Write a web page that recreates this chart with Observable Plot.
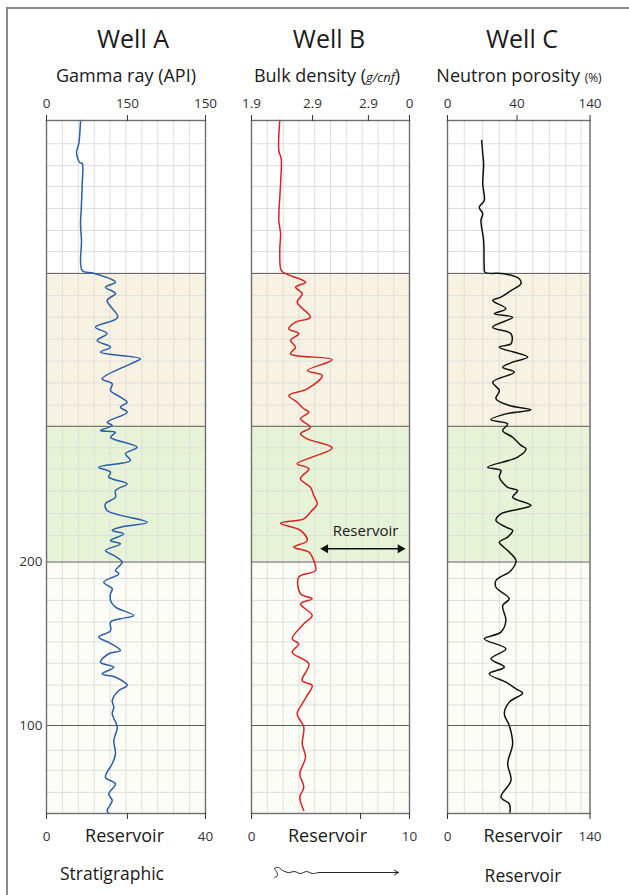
<!DOCTYPE html>
<html><head><meta charset="utf-8">
<script src="https://cdn.jsdelivr.net/npm/d3@7"></script>
<script src="https://cdn.jsdelivr.net/npm/@observablehq/plot@0.6"></script>
<style>
html,body{margin:0;padding:0;width:629px;height:895px;overflow:hidden;background:#fff;font-family:"Open Sans",sans-serif;}
#root{position:relative;width:629px;height:895px;overflow:hidden;}
.t{position:absolute;transform:translateX(-50%);white-space:nowrap;color:#1a1a1a;}
.frame{position:absolute;left:6px;top:7px;width:800px;height:1000px;border-left:2px solid #8c8c8c;border-top:2px solid #8c8c8c;}
.p{position:absolute;top:0;}
.p svg{overflow:visible;}
</style></head><body><div id="root"><div class="frame"></div></div>
<script>
// ---------- shared depth data ----------
const depthDomain = [46.2, 470];
const depthTicks = [200, 100];
const boundaryDepths = [376.5, 283, 200, 100];
const zoneTop = [376.5, 283, 200];
const zoneBottom = [283, 200, 46.2];
const zoneFill = ["#f7f2e1", "#e6f3d6", "#fdfdf8"];
const gridDepths = [455.8, 442.4, 429.6, 416.2, 402.7, 389.9, 363.1, 349.7, 336.3, 322.9, 309.5, 296.0,
  269.8, 257.0, 243.6, 229.6, 216.2, 189.9, 176.5, 163.3, 151.1, 138.1, 124.7, 112.5, 84.8, 72.6, 59.1];

// ---------- Well A: gamma ray ----------
const wellA_depth = [470, 456.0, 450.4, 444.3, 443.7, 431.5, 415.0, 407.0, 396.6, 378.3, 376.6, 371.1, 368.1, 364.2, 359.9,
  349.7, 343.6, 339.7, 335.5, 331.4, 328.3, 324.3, 321.2, 312.0, 309.0, 304.9, 300.8, 297.7, 294.7, 291.6, 285.5, 283.5,
  280.4, 279.4, 276.3, 270.2, 266.2, 262.1, 258.0, 254.9, 251.9, 247.8, 243.7, 239.6, 235.6, 231.5, 224.3, 221.3, 219.3,
  217.2, 213.1, 211.1, 207.0, 204.0, 199.9, 194.8, 192.8, 187.6, 183.6, 180.6, 176.5, 172.4, 167.3, 165.3, 163.2, 158.1,
  154.0, 150.9, 145.9, 143.9, 138.7, 135.7, 131.6, 129.5, 124.5, 121.4, 115.3, 111.2, 107.2, 99.0, 90.8, 82.7, 76.6,
  68.4, 64.3, 58.2, 54.1, 48.0, 46.2];
const wellA_gamma = [32.1, 30.5, 28.3, 31.4, 33.7, 33.7, 32.7, 32.1, 33.0, 33.7, 44.6, 65.1, 55.6, 65.1, 57.2,
  67.2, 46.2, 57.2, 47.8, 60.4, 50.9, 88.6, 79.2, 52.5, 62.0, 60.4, 69.8, 76.1, 69.8, 76.1, 57.2, 62.0,
  50.9, 65.1, 60.4, 85.5, 74.5, 79.2, 49.3, 60.4, 58.7, 76.1, 65.1, 65.1, 55.6, 57.2, 95.0, 69.8, 62.0,
  72.9, 60.4, 69.8, 55.6, 63.5, 71.4, 65.1, 68.2, 54.0, 62.0, 60.4, 60.4, 65.1, 82.3, 69.8, 60.4, 60.4,
  49.3, 58.7, 69.8, 58.7, 50.9, 63.5, 52.5, 65.1, 76.1, 68.2, 62.0, 63.5, 62.0, 66.7, 63.5, 65.1, 62.0,
  55.6, 65.1, 58.7, 62.0, 57.2, 58.7];
const wellA_topTicks = [0, 76.4, 150];
const wellA_topLabels = ["0", "150", "150"];
const wellA_bottomTicks = [0, 76.4, 150];
const wellA_bottomLabels = ["0", "", "40"];
const wellA_gridX = [0, 15, 30, 45, 60, 75, 90, 105, 120, 135, 150];

// ---------- Well B: bulk density ----------
const wellB_depth = [470, 451.7, 446.6, 431.3, 408.9, 400.7, 390.5, 378.3, 376.3, 371.1, 368.1, 364.0, 358.9, 349.7,
  346.7, 342.6, 339.6, 335.5, 331.4, 327.3, 323.7, 317.1, 314.1, 305.9, 301.8, 297.7, 293.7, 291.6, 287.6, 282.4,
  278.4, 275.3, 269.8, 264.1, 260.1, 257.0, 250.9, 245.7, 240.7, 235.6, 230.5, 226.4, 223.7, 219.3, 213.1, 209.1,
  206.0, 200.9, 194.8, 190.7, 180.6, 177.5, 174.4, 167.3, 162.2, 153.0, 150.0, 144.8, 137.7, 127.5, 124.5, 118.4,
  113.3, 107.2, 99.0, 88.8, 80.6, 70.5, 62.3, 56.2, 48.0];
const wellB_density = [2.079, 2.073, 2.088, 2.084, 2.073, 2.084, 2.079, 2.088, 2.115, 2.242, 2.179, 2.221, 2.189, 2.273,
  2.179, 2.136, 2.199, 2.147, 2.179, 2.147, 2.411, 2.253, 2.348, 2.253, 2.136, 2.189, 2.231, 2.263, 2.210, 2.273,
  2.210, 2.253, 2.411, 2.284, 2.189, 2.263, 2.210, 2.273, 2.294, 2.316, 2.273, 2.231, 2.084, 2.210, 2.253, 2.168,
  2.263, 2.294, 2.305, 2.199, 2.210, 2.284, 2.210, 2.284, 2.231, 2.158, 2.199, 2.158, 2.263, 2.221, 2.284, 2.253,
  2.221, 2.189, 2.231, 2.221, 2.242, 2.206, 2.231, 2.206, 2.231];
const wellB_topTicks = [1.9, 2.286, 2.64, 2.9];
const wellB_topLabels = ["1.9", "2.9", "2.9", "0"];
const wellB_bottomTicks = [1.9, 2.59, 2.9];
const wellB_bottomLabels = ["0", "", "10"];
const wellB_gridX = [1.9, 2.0, 2.1, 2.2, 2.3, 2.4, 2.5, 2.6, 2.7, 2.8, 2.9];
const wellB_reservoirText = [{x: 2.622, y: 218.7, label: "Reservoir"}];
const wellB_reservoirArrow = [{x1: 2.375, x2: 2.835, y: 208.1}];
const wellB_arrowHeads = [{x: 2.368, y: 208.1, rot: -90}, {x: 2.842, y: 208.1, rot: 90}];
const squiggle_x = [2.046, 2.065, 2.058, 2.046, 2.071, 2.096, 2.134, 2.172, 2.210, 2.248, 2.286, 2.324];
const squiggle_d = [7.0, 8.3, 10.7, 12.6, 13.2, 11.4, 10.1, 10.7, 9.5, 10.7, 9.5, 10.1];
const squiggleArrow = [{x1: 2.324, x2: 2.83, y: 10.1}];

// ---------- Well C: neutron porosity ----------
const wellC_depth = [457.8, 449.7, 443.5, 431.3, 421.1, 417.0, 413.0, 408.9, 396.6, 380.3, 377.2, 376.3, 373.2, 370.1,
  366.0, 362.0, 359.9, 354.9, 351.8, 349.7, 343.6, 339.6, 333.5, 331.4, 325.3, 322.2, 319.1, 316.1, 310.0, 304.9,
  299.8, 295.7, 293.1, 290.6, 287.0, 284.5, 280.4, 276.3, 271.3, 269.2, 264.1, 258.0, 256.0, 251.9, 245.7, 243.7,
  239.6, 234.6, 229.5, 225.4, 221.3, 219.3, 215.2, 212.1, 207.0, 200.9, 194.8, 188.7, 184.6, 177.5, 173.4, 164.2,
  157.1, 153.0, 146.9, 140.8, 135.7, 131.6, 126.5, 122.4, 119.8, 114.3, 107.2, 100.0, 88.8, 76.6, 66.4, 56.2, 52.1, 47.0];
const wellC_porosity = [33.6, 34.6, 35.5, 34.6, 36.1, 31.2, 34.6, 32.9, 35.5, 36.1, 36.8, 55.8, 70.5, 72.2,
  62.4, 52.5, 44.4, 57.4, 46.0, 64.0, 44.4, 62.4, 62.4, 50.9, 78.8, 64.0, 54.2, 65.6, 44.4, 50.9,
  47.6, 60.7, 82.0, 57.4, 42.7, 59.1, 54.2, 64.0, 72.2, 77.1, 68.9, 39.5, 52.5, 50.9, 59.1, 68.9,
  64.0, 82.0, 52.5, 47.6, 57.4, 64.0, 59.1, 50.9, 59.1, 67.3, 62.4, 47.6, 47.6, 60.7, 54.2, 57.4,
  52.5, 36.1, 57.4, 42.7, 55.8, 41.0, 57.4, 67.3, 73.8, 60.7, 55.8, 60.7, 64.0, 59.1, 62.4, 52.5, 60.7, 61.4];
const wellC_topTicks = [0, 68.3, 140];
const wellC_topLabels = ["0", "40", "140"];
const wellC_bottomTicks = [0, 140];
const wellC_bottomLabels = ["0", "140"];
const wellC_gridX = [0, 16.5, 34.6, 50.9, 67.3, 83.7, 100, 116.4, 131.2, 140];

// ---------- builder ----------
const H = 895, MT = 120, MB = 82;
function zip(ds, vs) { return ds.map((d, i) => ({depth: d, v: vs[i]})); }

function panel(o) {
  const dom = o.domain;
  const zones = zoneTop.map((t, i) => ({top: t, bottom: zoneBottom[i], fill: zoneFill[i]}));
  const marks = [
    ...zones.map(z => Plot.rect([z], {x1: () => dom[0], x2: () => dom[1], y1: "bottom", y2: "top", fill: z.fill})),
    Plot.ruleX(o.gridX, {y1: depthDomain[0], y2: depthDomain[1], stroke: "#dedede", strokeWidth: 1}),
    Plot.ruleY(gridDepths, {x1: dom[0], x2: dom[1], stroke: "#dedede", strokeWidth: 1}),
    Plot.ruleY(boundaryDepths, {x1: dom[0], x2: dom[1], stroke: "#5a5a5a", strokeWidth: 1}),
    Plot.line(zip(o.depth, o.values), {x: "v", y: "depth", stroke: o.color, strokeWidth: 1.5, curve: "catmull-rom"}),
    Plot.frame({stroke: "#6e6e6e", strokeWidth: 1.4}),
    Plot.axisX({anchor: "top", ticks: o.topTicks, tickFormat: d => o.topLabels[o.topTicks.indexOf(d)],
      tickSize: 6, tickPadding: 7, label: null, fontSize: 13.5}),
    Plot.axisX({anchor: "bottom", ticks: o.bottomTicks, tickFormat: d => o.bottomLabels[o.bottomTicks.indexOf(d)],
      tickSize: 6, tickPadding: 12, label: null, fontSize: 13.5}),
    Plot.text([o.reservoirX], {x: d => d, y: () => 48, frameAnchor: "bottom", text: () => "Reservoir", dy: 26, fontSize: 18, fill: "#1a1a1a", lineAnchor: "middle"})
  ];
  if (o.extra) marks.push(...o.extra);
  const plot = Plot.plot({
    width: o.width + o.ml + o.mr, height: H,
    marginTop: MT, marginBottom: MB, marginLeft: o.ml, marginRight: o.mr,
    x: {domain: dom},
    y: {domain: depthDomain, axis: o.yAxis ? undefined : null},
    style: {fontFamily: "Open Sans", fontSize: "13.5px", color: "#333", background: "transparent", overflow: "visible"},
    marks
  });
  const div = document.createElement("div");
  div.className = "p";
  div.style.left = (o.left - o.ml) + "px";
  div.appendChild(plot);
  document.getElementById("root").appendChild(div);
}

panel({left: 46, width: 159, ml: 46, mr: 20, domain: [0, 150], color: "#2b5da8",
  depth: wellA_depth, values: wellA_gamma, gridX: wellA_gridX,
  topTicks: wellA_topTicks, topLabels: wellA_topLabels, bottomTicks: wellA_bottomTicks, bottomLabels: wellA_bottomLabels,
  reservoirX: 73.6, yAxis: true,
  extra: [Plot.axisY({anchor: "left", ticks: depthTicks, tickSize: 0, tickPadding: 4, label: null, fontSize: 13.5})]});

panel({left: 251, width: 158, ml: 20, mr: 20, domain: [1.9, 2.9], color: "#d42424",
  depth: wellB_depth, values: wellB_density, gridX: wellB_gridX,
  topTicks: wellB_topTicks, topLabels: wellB_topLabels, bottomTicks: wellB_bottomTicks, bottomLabels: wellB_bottomLabels,
  reservoirX: 2.381,
  extra: [
    Plot.text(wellB_reservoirText, {x: "x", y: "y", text: "label", fontSize: 15, fill: "#1a1a1a"}),
    Plot.link(wellB_reservoirArrow, {x1: "x1", x2: "x2", y1: "y", y2: "y", stroke: "#111", strokeWidth: 1.5}),
    Plot.dot(wellB_arrowHeads, {x: "x", y: "y", symbol: "triangle", rotate: "rot", r: 3.4, fill: "#111", stroke: "none"}),
    Plot.line(squiggle_x.map((x, i) => ({x, d: squiggle_d[i]})), {x: "x", y: "d", stroke: "#222", strokeWidth: 1, curve: "catmull-rom"}),
    Plot.arrow(squiggleArrow, {x1: "x1", x2: "x2", y1: "y", y2: "y", stroke: "#222", strokeWidth: 1, headLength: 7})
  ]});

panel({left: 446.5, width: 142.5, ml: 20, mr: 30, domain: [0, 140], color: "#111",
  depth: wellC_depth, values: wellC_porosity, gridX: wellC_gridX,
  topTicks: wellC_topTicks, topLabels: wellC_topLabels, bottomTicks: wellC_bottomTicks, bottomLabels: wellC_bottomLabels,
  reservoirX: 74.1});

// ---------- titles ----------
const titles = [
  {x: 133, y: 38, size: 25, html: "Well A"},
  {x: 329, y: 38, size: 25, html: "Well B"},
  {x: 522, y: 38, size: 25, html: "Well C"},
  {x: 126, y: 75, size: 18, html: "Gamma ray (API)"},
  {x: 327, y: 75, size: 18, html: "Bulk density (<i style='font-size:13px'>g/cnf</i>)"},
  {x: 519, y: 75, size: 18, html: "Neutron porosity <span style='font-size:12px'>(%)</span>"},
  {x: 112, y: 873, size: 17.5, html: "Stratigraphic"},
  {x: 523, y: 875, size: 17.5, html: "Reservoir"}
];
for (const t of titles) {
  const d = document.createElement("div");
  d.className = "t";
  d.style.left = t.x + "px";
  d.style.top = (t.y - 15) + "px";
  d.style.lineHeight = "30px";
  d.style.fontSize = t.size + "px";
  d.innerHTML = t.html;
  document.getElementById("root").appendChild(d);
}
</script></body></html>
